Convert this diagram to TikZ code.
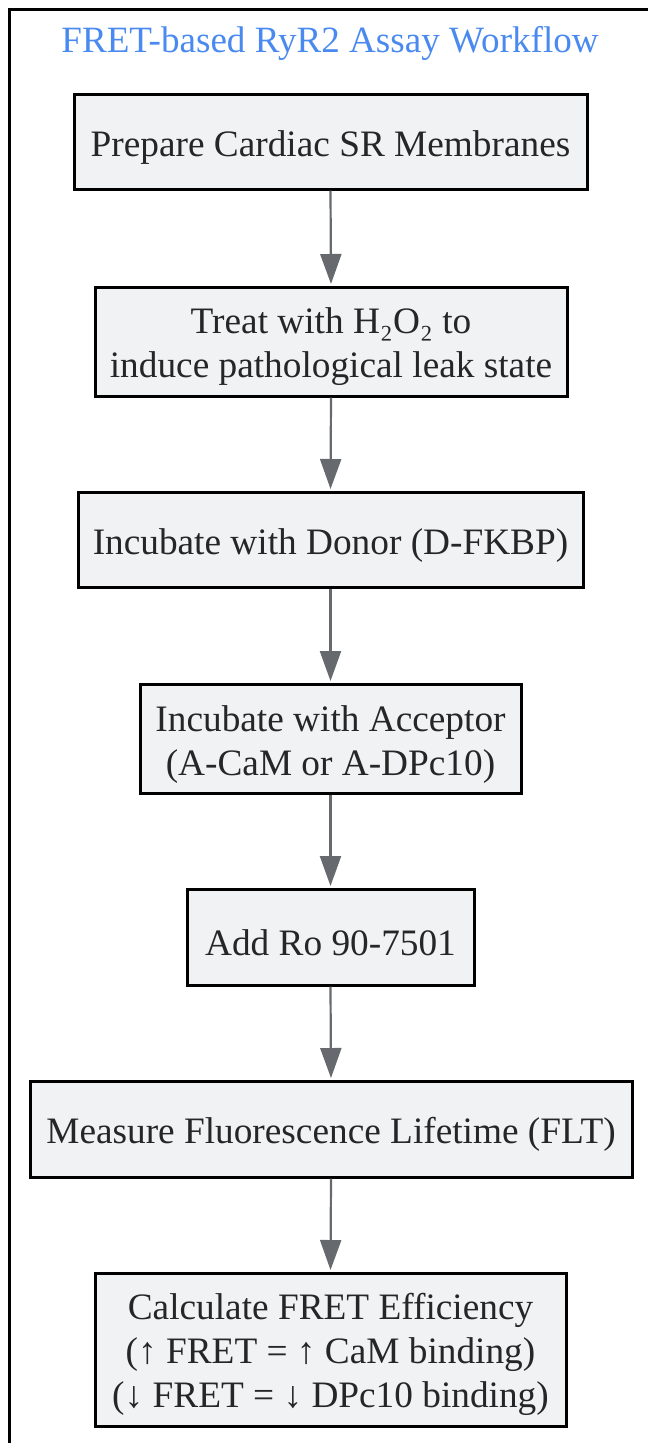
\documentclass[tikz,border=0pt]{standalone}
\usepackage{fontspec}
\setmainfont{Liberation Serif}
\usetikzlibrary{arrows.meta}
\definecolor{boxfill}{HTML}{F1F2F4}
\definecolor{arrowgray}{HTML}{666A6E}
\definecolor{titleblue}{HTML}{4A8AF0}
\definecolor{txt}{HTML}{262626}
\newcommand{\toppad}{\rule{0pt}{37pt}}
\tikzset{
  stepbox/.style={draw=black, line width=3pt, fill=boxfill, text=txt, align=center, inner sep=0pt,
    font=\fontsize{37.3}{44}\selectfont},
  flowarrow/.style={draw=arrowgray, line width=2.2pt, -{Triangle[length=30pt,width=21pt]}, shorten >=1.5pt},
}
\begin{document}
\begin{tikzpicture}[x=1pt,y=-1pt]
\useasboundingbox (0,0) rectangle (648,1443);
\draw[line width=3pt, black] (9,1443) -- (9,9) -- (648,9);
\node[text=titleblue, font=\fontsize{37.1}{44}\selectfont] (title) at (330,43) {FRET-based RyR2 Assay Workflow};
\node[stepbox, minimum width=513pt, minimum height=95pt] (b1) at (330.5,141.5) {\toppad Prepare Cardiac SR Membranes};
\node[stepbox, minimum width=472pt, minimum height=109pt] (b2) at (331,341.5) {\toppad Treat with H₂O₂ to\\induce pathological leak state};
\node[stepbox, minimum width=505pt, minimum height=95pt] (b3) at (330.5,539.5) {\toppad Incubate with Donor (D-FKBP)};
\node[stepbox, minimum width=381pt, minimum height=109pt] (b4) at (330.5,738.5) {\toppad Incubate with Acceptor\\(A-CaM or A-DPc10)};
\node[stepbox, minimum width=287pt, minimum height=96pt] (b5) at (330.5,937) {\toppad Add Ro 90-7501};
\node[stepbox, minimum width=602pt, minimum height=96pt] (b6) at (331,1129) {\toppad Measure Fluorescence Lifetime (FLT)};
\node[stepbox, minimum width=471pt, minimum height=153pt] (b7) at (330.5,1349.5) {\toppad Calculate FRET Efficiency\\(↑ FRET = ↑ CaM binding)\\(↓ FRET = ↓ DPc10 binding)};
\draw[flowarrow] (b1.south) -- (b2.north);
\draw[flowarrow] (b2.south) -- (b3.north);
\draw[flowarrow] (b3.south) -- (b4.north);
\draw[flowarrow] (b4.south) -- (b5.north);
\draw[flowarrow] (b5.south) -- (b6.north);
\draw[flowarrow] (b6.south) -- (b7.north);
\end{tikzpicture}
\end{document}
